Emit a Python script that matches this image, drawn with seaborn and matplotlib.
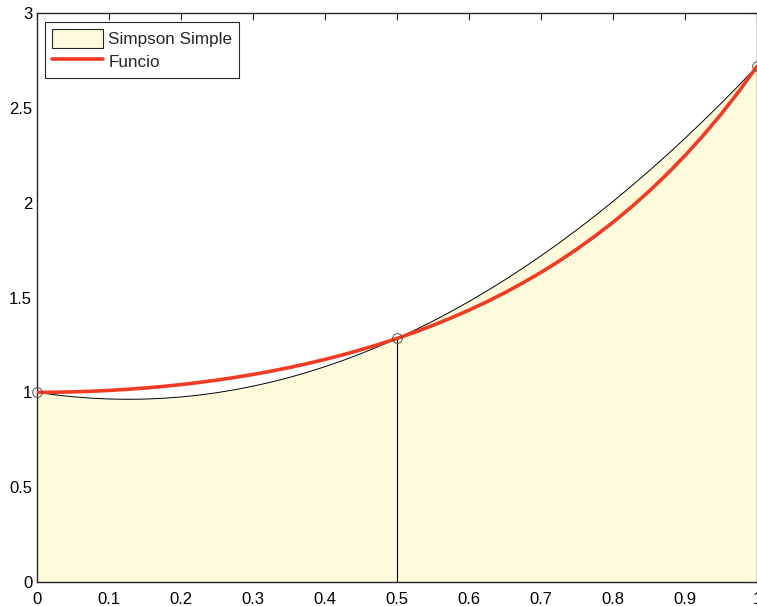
import matplotlib
matplotlib.use("Agg")
import matplotlib.pyplot as plt
import seaborn as sns
import pandas as pd
from matplotlib.patches import Patch
from matplotlib.lines import Line2D

# Data
x_vals = [0.000, 0.025, 0.050, 0.075, 0.100, 0.125, 0.150, 0.175, 0.200, 0.225,
          0.250, 0.275, 0.300, 0.325, 0.350, 0.375, 0.400, 0.425, 0.450, 0.475,
          0.500, 0.525, 0.550, 0.575, 0.600, 0.625, 0.650, 0.675, 0.700, 0.725,
          0.750, 0.775, 0.800, 0.825, 0.850, 0.875, 0.900, 0.925, 0.950, 0.975,
          1.000]
funcio = [1.0000, 1.0006, 1.0025, 1.0056, 1.0101, 1.0157, 1.0228, 1.0311, 1.0408, 1.0519,
          1.0645, 1.0786, 1.0942, 1.1114, 1.1303, 1.1510, 1.1735, 1.1980, 1.2245, 1.2531,
          1.2840, 1.3174, 1.3532, 1.3918, 1.4333, 1.4779, 1.5258, 1.5772, 1.6323, 1.6915,
          1.7551, 1.8233, 1.8965, 1.9751, 2.0596, 2.1503, 2.2479, 2.3528, 2.4657, 2.5873,
          2.7183]
simpson = [1.0000, 0.9869, 0.9766, 0.9693, 0.9648, 0.9632, 0.9644, 0.9686, 0.9756, 0.9854,
           0.9982, 1.0139, 1.0324, 1.0538, 1.0780, 1.1052, 1.1352, 1.1681, 1.2039, 1.2425,
           1.2840, 1.3284, 1.3757, 1.4258, 1.4789, 1.5348, 1.5935, 1.6552, 1.7197, 1.7871,
           1.8574, 1.9305, 2.0066, 2.0855, 2.1672, 2.2519, 2.3394, 2.4299, 2.5231, 2.6193,
           2.7183]
node_x = [0.0, 0.5, 1.0]
node_y = [1.0000, 1.2840, 2.7183]
x_ticks = [0, 0.1, 0.2, 0.3, 0.4, 0.5, 0.6, 0.7, 0.8, 0.9, 1]
x_tick_labels = ["0", "0.1", "0.2", "0.3", "0.4", "0.5", "0.6", "0.7", "0.8", "0.9", "1"]
y_ticks = [0, 0.5, 1, 1.5, 2, 2.5, 3]
y_tick_labels = ["0", "0.5", "1", "1.5", "2", "2.5", "3"]
legend_labels = ["Simpson Simple", "Funcio"]

sns.set_style("white")
plt.rcParams["font.family"] = ["Liberation Sans", "DejaVu Sans"]

fill_color = "#FEFADC"
red = "#F03C24"
edge = "#262626"

fig = plt.figure(figsize=(7.57, 6.06), dpi=100)
ax = fig.add_axes([37 / 757, (606 - 582) / 606, (757 - 37) / 757, (582 - 13) / 606])

df = pd.DataFrame({"x": x_vals, "f": funcio, "s": simpson})

ax.fill_between(df["x"], 0, df["s"], color=fill_color, linewidth=0, zorder=1)
sns.lineplot(data=df, x="x", y="s", ax=ax, color="black", linewidth=0.7, zorder=2,
             legend=False)
ax.vlines(node_x[1], 0, node_y[1], color="black", linewidth=0.8, zorder=2)
sns.lineplot(data=df, x="x", y="f", ax=ax, color=red, linewidth=2.6, zorder=3,
             legend=False)
ax.plot(node_x, node_y, linestyle="none", marker="o", markersize=7,
        markerfacecolor="none", markeredgecolor="#555555", markeredgewidth=0.7,
        zorder=4, clip_on=False)

ax.set_xlim(0, 1)
ax.set_ylim(0, 3)
ax.set_xticks(x_ticks)
ax.set_xticklabels(x_tick_labels)
ax.set_yticks(y_ticks)
ax.set_yticklabels(y_tick_labels)
ax.set_xlabel("")
ax.set_ylabel("")

for sp in ax.spines.values():
    sp.set_visible(True)
    sp.set_color(edge)
    sp.set_linewidth(1.0)

ax.tick_params(axis="both", direction="in", length=5, width=0.8, color=edge,
               labelsize=12, labelcolor="black", top=True, right=True)
ax.tick_params(axis="x", pad=7)
ax.tick_params(axis="y", pad=3.5)

handles = [Patch(facecolor=fill_color, edgecolor=edge, linewidth=0.8),
           Line2D([0], [0], color=red, linewidth=2.6)]
leg = ax.legend(handles, legend_labels, loc="upper left",
                bbox_to_anchor=(0.011, 0.984), borderaxespad=0,
                fancybox=False, framealpha=1, edgecolor=edge,
                fontsize=12.3, handlelength=3.0, handleheight=1.35,
                handletextpad=0.3, labelspacing=0.2, borderpad=0.4)
leg.get_frame().set_linewidth(0.8)

fig.savefig("out.png", dpi=100)
